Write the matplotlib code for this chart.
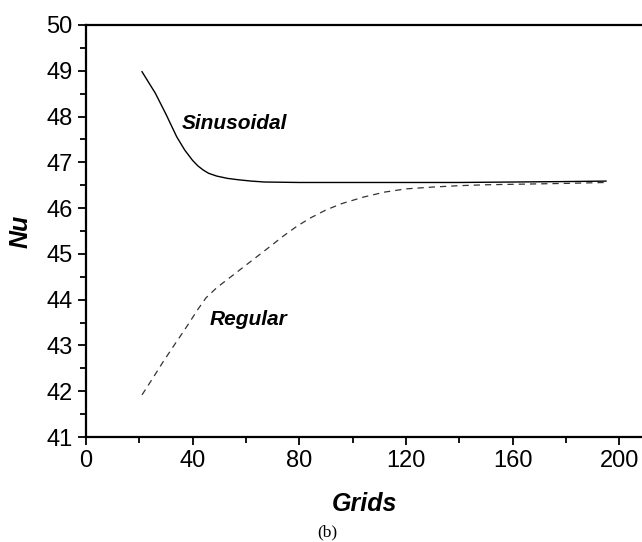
import numpy as np
import matplotlib.pyplot as plt

plt.rcParams['font.family'] = ['Liberation Sans', 'DejaVu Sans']

# curve values
sin_x  = [21, 26, 30, 34, 37, 40, 42, 44, 46, 49, 53, 57, 62, 67, 80, 100, 120, 140, 160, 180, 195]
sin_nu = [48.98, 48.51, 48.05, 47.56, 47.27, 47.04, 46.92, 46.83, 46.76, 46.70, 46.65, 46.62, 46.59, 46.57, 46.56, 46.56, 46.56, 46.56, 46.57, 46.58, 46.59]

reg_x  = [21, 25, 29, 33, 36.5, 39, 41.5, 45, 49, 53, 57, 61, 65, 69, 74, 79, 84, 90, 96, 104, 112, 120, 130, 140, 150, 160, 170, 180, 195]
reg_nu = [41.92, 42.28, 42.65, 43.0, 43.3, 43.52, 43.75, 44.04, 44.26, 44.44, 44.62, 44.8, 44.98, 45.16, 45.39, 45.6, 45.78, 45.96, 46.1, 46.24, 46.35, 46.42, 46.46, 46.49, 46.51, 46.52, 46.53, 46.54, 46.56]

xticks = [0, 40, 80, 120, 160, 200]
yticks = [41, 42, 43, 44, 45, 46, 47, 48, 49, 50]

fig = plt.figure(figsize=(6.42, 5.42), dpi=100)
ax = fig.add_axes([86/642, 1 - 437/542, 1 - 86/642, 412/542])

ax.plot(sin_x, sin_nu, color='black', lw=1.0)
ax.plot(reg_x, reg_nu, color='#333333', lw=0.9, dashes=(5, 4))

ax.text(36, 47.84, 'Sinusoidal', fontsize=15, fontweight='bold', style='italic', va='center')
ax.text(46.5, 43.56, 'Regular', fontsize=15, fontweight='bold', style='italic', va='center')

ax.set_xlim(0, 208.5)
ax.set_ylim(41, 50)
ax.set_xticks(xticks)
ax.set_yticks(yticks)
ax.set_xticks(np.arange(20, 201, 40), minor=True)
ax.set_yticks(np.arange(41.5, 50, 1.0), minor=True)
ax.tick_params(which='major', direction='out', length=6, width=1.3, labelsize=17)
ax.tick_params(which='minor', direction='out', length=4, width=1.3)
ax.spines['right'].set_visible(False)
for s in ['left', 'bottom', 'top']:
    ax.spines[s].set_linewidth(1.6)

ax.set_xlabel('Grids', fontsize=18, fontweight='bold', style='italic', labelpad=14)
ax.set_ylabel('Nu', fontsize=18, fontweight='bold', style='italic', labelpad=10)

fig.text(327/642, 1 - 532/542, '(b)', fontsize=12.5, family='Liberation Serif', ha='center', va='center')

plt.savefig('out.png', dpi=100)
